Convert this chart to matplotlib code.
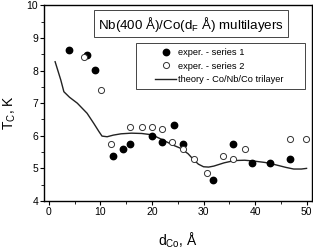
import numpy as np
import matplotlib.pyplot as plt
from matplotlib.patches import Rectangle
from matplotlib.lines import Line2D
from matplotlib.ticker import MultipleLocator

plt.rcParams['font.family'] = ['Liberation Sans', 'DejaVu Sans']

# exper. - series 1 (filled)
s1_x = [3.9, 7.4, 8.9, 12.4, 14.3, 15.8, 20.0, 21.9, 24.2, 26.1, 31.8, 35.8, 39.5, 43.0, 46.8]
s1_y = [8.62, 8.48, 8.02, 5.38, 5.60, 5.75, 6.00, 5.82, 6.34, 5.75, 4.63, 5.76, 5.16, 5.16, 5.30]

# exper. - series 2 (open)
s2_x = [6.9, 10.1, 12.0, 15.7, 18.1, 20.0, 21.9, 23.9, 26.1, 28.1, 30.7, 33.8, 35.8, 38.0, 46.8, 49.9]
s2_y = [8.41, 7.41, 5.74, 6.28, 6.28, 6.28, 6.20, 5.82, 5.60, 5.29, 4.85, 5.39, 5.30, 5.60, 5.91, 5.91]

# theory - Co/Nb/Co trilayer
th_x = [1.2, 2.3, 2.9, 4.0, 5.5, 7.4, 8.7, 9.7, 10.3, 11.3, 12.5, 14.0, 16.0, 18.0, 20.0,
        22.0, 24.0, 25.5, 27.0, 28.0, 29.0, 30.0, 31.0, 32.0, 33.0, 34.0, 36.0, 38.0,
        40.0, 42.0, 44.0, 46.0, 47.5, 49.0, 50.0]
th_y = [8.27, 7.71, 7.35, 7.18, 7.0, 6.69, 6.38, 6.13, 5.99, 5.97, 6.02, 6.06, 6.08, 6.07, 6.03,
        5.88, 5.72, 5.62, 5.45, 5.28, 5.13, 5.05, 5.04, 5.07, 5.12, 5.17, 5.24, 5.25,
        5.22, 5.18, 5.11, 5.03, 4.98, 4.98, 5.0]

W, H = 313, 249
fig = plt.figure(figsize=(W / 100, H / 100), dpi=100)
ax = fig.add_axes([44.3 / W, 1 - 201 / H, (311.7 - 44.3) / W, (201 - 5.3) / H])

ax.plot(th_x, th_y, color='#222222', lw=1.0)
ax.plot(s1_x, s1_y, 'o', color='black', ms=4.6, ls='none')
ax.plot(s2_x, s2_y, 'o', mfc='white', mec='#333333', mew=0.7, ms=4.4, ls='none')

ax.set_xlim(-0.9, 51)
ax.set_ylim(4, 10)
ax.xaxis.set_major_locator(MultipleLocator(10))
ax.xaxis.set_minor_locator(MultipleLocator(5))
ax.yaxis.set_major_locator(MultipleLocator(1))
ax.yaxis.set_minor_locator(MultipleLocator(0.5))
ax.tick_params(which='major', direction='out', length=3, width=0.8, labelsize=7.5, pad=1.5)
ax.tick_params(which='minor', direction='out', length=2, width=0.6)
for sp in ax.spines.values():
    sp.set_linewidth(1.0)

ax.set_xlabel('d$_{\\mathregular{Co}}$, Å', fontsize=10)
ax.set_ylabel('T$_{\\mathregular{C}}$, K', fontsize=10)
ax.xaxis.set_label_coords(0.5, -0.15)
ax.yaxis.set_label_coords(-0.1, 0.45)

# title box
fig.text(191.3 / W, 1 - 24 / H, 'Nb(400 Å)/Co(d$_{\\mathregular{F}}$ Å) multilayers',
         ha='center', va='center', fontsize=9.6,
         bbox=dict(boxstyle='square,pad=0.3', fc='white', ec='#444444', lw=0.7))

# legend
handles = [
    Line2D([], [], marker='o', color='black', ls='none', ms=4.6),
    Line2D([], [], marker='o', mfc='white', mec='#333333', mew=0.7, ls='none', ms=4.4),
    Line2D([], [], color='#222222', lw=1.0),
]
labels = ['exper. - series 1', 'exper. - series 2', 'theory - Co/Nb/Co trilayer']
leg = ax.legend(handles, labels, frameon=False, fontsize=6.7, loc='upper left',
                bbox_to_anchor=(155 / W, 1 - 48 / H), bbox_transform=fig.transFigure,
                borderpad=0, borderaxespad=0, handlelength=2.3, handletextpad=0.15,
                labelspacing=0.5)
fig.patches.append(Rectangle((136 / W, 1 - 89.3 / H), (305 - 136) / W, (89.3 - 42.7) / H,
                             transform=fig.transFigure, fill=False, ec='#444444', lw=0.7))

fig.savefig('out.png', dpi=100)
